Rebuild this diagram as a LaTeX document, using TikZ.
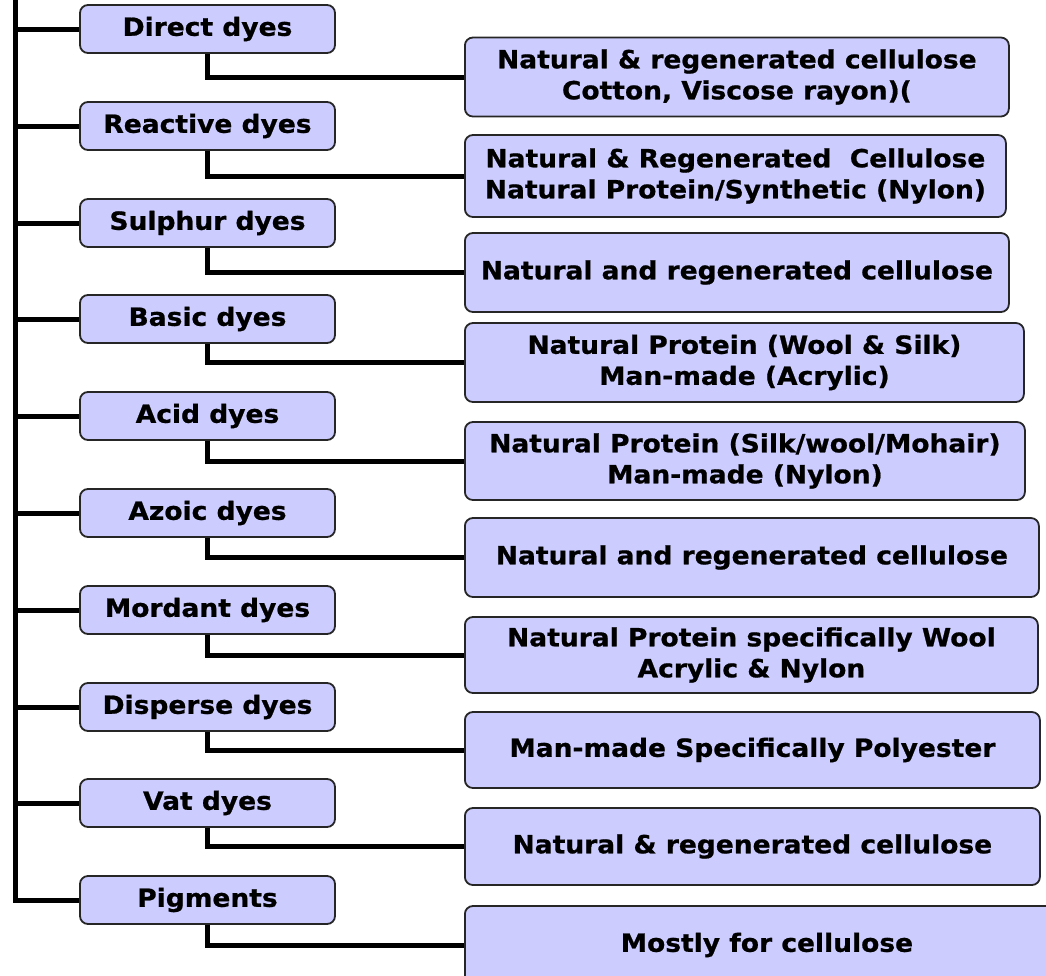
\documentclass[tikz,border=0pt]{standalone}
\usepackage{fontspec}
\setmainfont{DejaVu Sans}[FakeStretch=1.06,BoldFeatures={FakeBold=0.8}]
\definecolor{boxfill}{HTML}{CCCCFF}

\begin{document}
\begin{tikzpicture}[x=1pt,y=-1pt,link/.style={line width=5pt},box/.style={draw=black!85,line width=1.8pt,fill=boxfill,rounded corners=8pt,inner sep=0pt,align=center,font=\bfseries\fontsize{25}{31}\selectfont},dye/.style={box,minimum width=255,minimum height=48},fibre/.style={box,anchor=west,minimum height=79}]
\useasboundingbox (0,0) rectangle (1046,975); \clip (0,0) rectangle (1046,975);
\coordinate (top) at (15,0);
% dye classes
\node[dye] (dir) at (207.5,29) {Direct dyes}; \node[dye] (rea) at (207.5,126) {Reactive dyes};
\node[dye] (sul) at (207.5,223) {Sulphur dyes}; \node[dye] (bas) at (207.5,319) {Basic dyes};
\node[dye] (aci) at (207.5,416) {Acid dyes}; \node[dye] (azo) at (207.5,513) {Azoic dyes};
\node[dye] (mor) at (207.5,610) {Mordant dyes}; \node[dye] (dis) at (207.5,707) {Disperse dyes};
\node[dye] (vat) at (207.5,803) {Vat dyes}; \node[dye] (pig) at (207.5,900) {Pigments};
% fibres they suit
\node[fibre,minimum width=544] (dirU) at (464,77) {Natural \& regenerated cellulose\\Cotton, Viscose rayon)(};
\node[fibre,minimum width=541,minimum height=82] (reaU) at (464,176) {Natural \& Regenerated~ Cellulose\\Natural Protein/Synthetic (Nylon)};
\node[fibre,minimum width=544] (sulU) at (464,272.5) {Natural and regenerated cellulose};
\node[fibre,minimum width=559] (basU) at (464,362.5) {Natural Protein (Wool \& Silk)\\Man-made (Acrylic)};
\node[fibre,minimum width=560,minimum height=78] (aciU) at (464,461) {Natural Protein (Silk/wool/Mohair)\\Man-made (Nylon)};
\node[fibre,minimum width=574] (azoU) at (464,557.5) {Natural and regenerated cellulose};
\node[fibre,minimum width=573,minimum height=76] (morU) at (464,655) {Natural Protein specifically Wool\\Acrylic \& Nylon};
\node[fibre,minimum width=575,minimum height=76] (disU) at (464,750) {Man-made Specifically Polyester};
\node[fibre,minimum width=575,minimum height=77] (vatU) at (464,846.5) {Natural \& regenerated cellulose};
\node[fibre,minimum width=604,minimum height=78] (pigU) at (464,945) {Mostly for cellulose};
% trunk and links
\foreach \d in {dir,rea,sul,bas,aci,azo,mor,dis,vat,pig} {\draw[link] (top) |- (\d.west); \draw[link] (\d.south) |- (\d U.west);}
\end{tikzpicture}
\end{document}
